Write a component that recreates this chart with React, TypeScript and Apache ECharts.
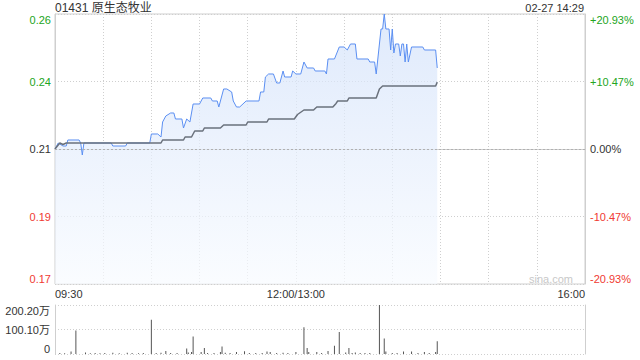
import React, { useEffect, useRef } from "react";
import * as echarts from "echarts";

const FONT = "'Liberation Sans', Arial, 'Noto Sans CJK SC', sans-serif";

const TITLE = "01431 原生态牧业";
const STAMP = "02-27 14:29";
const PREV_CLOSE = 0.215;

// minute index from 09:30 (12:00/13:00 share index 150, 16:00 = 330)
const priceMinutes = [0, 2, 5, 7, 8, 15, 16, 17, 18, 35, 36, 44, 45, 59, 60, 64, 66, 67, 69, 72, 74, 75, 79, 80, 82, 84, 86, 90, 92, 97, 98, 101, 102, 105, 107, 110, 111, 113, 115, 119, 127, 128, 130, 131, 133, 136, 138, 140, 142, 143, 147, 148, 150, 153, 155, 157, 161, 162, 168, 169, 170, 174, 177, 180, 182, 184, 187, 188, 195, 196, 199, 200, 203, 204, 205, 206, 208, 209, 210, 211, 212, 214, 215, 216, 217, 218, 219, 220, 222, 229, 230, 237, 238];
const priceValues = [0.215, 0.217, 0.216, 0.216, 0.218, 0.218, 0.217, 0.213, 0.217, 0.217, 0.216, 0.216, 0.217, 0.217, 0.220, 0.220, 0.219, 0.224, 0.226, 0.227, 0.227, 0.225, 0.225, 0.222, 0.225, 0.224, 0.230, 0.230, 0.232, 0.232, 0.231, 0.231, 0.229, 0.235, 0.235, 0.234, 0.231, 0.229, 0.229, 0.231, 0.231, 0.234, 0.234, 0.239, 0.240, 0.240, 0.237, 0.237, 0.241, 0.239, 0.239, 0.241, 0.240, 0.240, 0.244, 0.242, 0.242, 0.241, 0.241, 0.240, 0.245, 0.245, 0.249, 0.249, 0.248, 0.250, 0.250, 0.245, 0.245, 0.244, 0.244, 0.240, 0.255, 0.255, 0.260, 0.255, 0.255, 0.248, 0.255, 0.247, 0.250, 0.250, 0.246, 0.250, 0.250, 0.244, 0.250, 0.244, 0.249, 0.249, 0.248, 0.248, 0.242];

const avgMinutes = [0, 3, 5, 7, 66, 67, 80, 81, 85, 87, 92, 93, 103, 105, 119, 120, 132, 133, 149, 151, 155, 161, 163, 173, 175, 176, 182, 183, 200, 202, 204, 237, 238];
const avgValues = [0.215, 0.217, 0.2165, 0.217, 0.217, 0.218, 0.218, 0.219, 0.219, 0.221, 0.221, 0.222, 0.222, 0.223, 0.223, 0.224, 0.224, 0.225, 0.225, 0.2265, 0.228, 0.228, 0.229, 0.229, 0.2302, 0.231, 0.231, 0.232, 0.232, 0.235, 0.236, 0.236, 0.2373];

const volMinutes = [3, 6, 10, 13, 19, 22, 25, 28, 31, 36, 40, 45, 48, 52, 55, 60, 63, 66, 69, 72, 76, 82, 83, 85, 86, 91, 93, 95, 99, 103, 104, 106, 109, 113, 118, 121, 125, 129, 132, 134, 138, 142, 145, 150, 155, 157, 158, 163, 166, 170, 174, 177, 181, 183, 185, 187, 190, 193, 196, 202, 205, 206, 210, 213, 217, 222, 226, 230, 233, 237, 238];
const volValues = [40000, 30000, 100000, 960000, 60000, 30000, 40000, 30000, 40000, 50000, 30000, 50000, 40000, 30000, 40000, 1400000, 40000, 50000, 120000, 40000, 40000, 220000, 60000, 80000, 710000, 80000, 250000, 40000, 40000, 80000, 310000, 50000, 40000, 80000, 110000, 40000, 40000, 40000, 100000, 80000, 40000, 50000, 40000, 80000, 1090000, 250000, 80000, 80000, 40000, 120000, 340000, 900000, 60000, 250000, 40000, 60000, 40000, 40000, 40000, 2000000, 630000, 100000, 40000, 40000, 100000, 100000, 40000, 80000, 40000, 80000, 520000];

const timeTicks = [0, 150, 330];
const timeLabels = ["09:30", "12:00/13:00", "16:00"];
const pctTicks = [-20.93, -10.465, 0, 10.465, 20.93];
const priceLabels = ["0.17", "0.19", "0.21", "0.24", "0.26"];
const pctLabels = ["-20.93%", "-10.47%", "0.00%", "+10.47%", "+20.93%"];
const volTicks = [0, 1001000, 2002000];
const volLabels = ["0", "100.10万", "200.20万"];

const GREEN = "#22a522";
const RED = "#f03a32";
const DARK = "#333333";
const GRIDC = "#cfcfcf";

function nearestIdx(ticks: number[], v: number) {
  let best = 0;
  for (let i = 1; i < ticks.length; i++) {
    if (Math.abs(ticks[i] - v) < Math.abs(ticks[best] - v)) best = i;
  }
  return best;
}
const toPct = (p: number) => (p / PREV_CLOSE - 1) * 100;
const pctColor = (v: any) => {
  const n = Number(v);
  return n > 0.01 ? GREEN : n < -0.01 ? RED : DARK;
};

export default function App() {
  const ref = useRef<HTMLDivElement>(null);
  useEffect(() => {
    const chart = echarts.init(ref.current!, null, { renderer: "svg" });
    const priceData = priceMinutes.map((m, i) => [m, toPct(priceValues[i])]);
    const avgData = avgMinutes.map((m, i) => [m, toPct(avgValues[i])]);
    const volData = volMinutes.map((m, i) => [m, volValues[i]]);
    const dotted = { color: GRIDC, type: [1, 2] as any, width: 1 };

    chart.setOption({
      animation: false,
      textStyle: { fontFamily: FONT },
      grid: [
        { left: 55, top: 14, width: 530, height: 270, show: true, borderColor: GRIDC, borderWidth: 1, backgroundColor: "transparent" },
        { left: 55, top: 305, width: 530, height: 49, show: false },
      ],
      xAxis: [
        {
          type: "value", gridIndex: 0, min: 0, max: 330, interval: 30,
          axisLine: { show: true, lineStyle: { color: GRIDC } },
          axisTick: { show: false },
          splitLine: { show: true, lineStyle: dotted },
          axisLabel: {
            fontSize: 11, color: DARK, margin: 4, fontFamily: FONT,
            showMinLabel: true, showMaxLabel: true, hideOverlap: false,
            alignMinLabel: "left", alignMaxLabel: "right",
            formatter: (v: number) => {
              const i = timeTicks.indexOf(Math.round(v));
              return i >= 0 ? timeLabels[i] : "";
            },
          },
        },
        {
          type: "value", gridIndex: 1, min: 0, max: 330,
          axisLine: { show: false }, axisTick: { show: false },
          splitLine: { show: false }, axisLabel: { show: false },
        },
      ],
      yAxis: [
        {
          type: "value", gridIndex: 0, position: "left", min: -20.93, max: 20.93, interval: 10.465,
          axisLine: { show: true, lineStyle: { color: GRIDC } },
          axisTick: { show: false },
          splitLine: { show: true, lineStyle: dotted },
          axisLabel: {
            fontSize: 11, margin: 4, fontFamily: FONT, color: pctColor,
            verticalAlignMinLabel: "bottom", verticalAlignMaxLabel: "top",
            formatter: (v: number) => priceLabels[nearestIdx(pctTicks, v)],
          },
        },
        {
          type: "value", gridIndex: 0, position: "right", min: -20.93, max: 20.93, interval: 10.465,
          axisLine: { show: true, lineStyle: { color: GRIDC } },
          axisTick: { show: false },
          splitLine: { show: false },
          axisLabel: {
            fontSize: 11, margin: 5, fontFamily: FONT, color: pctColor,
            verticalAlignMinLabel: "bottom", verticalAlignMaxLabel: "top",
            formatter: (v: number) => pctLabels[nearestIdx(pctTicks, v)],
          },
        },
        {
          type: "value", gridIndex: 1, position: "left", min: 0, max: 2002000, interval: 1001000,
          axisLine: { show: true, lineStyle: { color: GRIDC } },
          axisTick: { show: false },
          splitLine: { show: true, lineStyle: dotted },
          axisLabel: {
            fontSize: 11, margin: 5, fontFamily: FONT, color: DARK,
            verticalAlignMinLabel: "bottom", verticalAlignMaxLabel: "top",
            formatter: (v: number) => volLabels[nearestIdx(volTicks, v)],
          },
        },
        {
          type: "value", gridIndex: 1, position: "right", min: 0, max: 2002000, interval: 1001000,
          axisLine: { show: true, lineStyle: { color: GRIDC } },
          axisTick: { show: false }, splitLine: { show: false }, axisLabel: { show: false },
        },
      ],
      series: [
        {
          type: "line", xAxisIndex: 0, yAxisIndex: 0, data: priceData,
          showSymbol: false, symbol: "none",
          lineStyle: { color: "#5b8ff2", width: 1 },
          areaStyle: {
            origin: "start",
            color: new echarts.graphic.LinearGradient(0, 0, 0, 1, [
              { offset: 0, color: "#d2e1fa" },
              { offset: 1, color: "#f8fbff" },
            ]),
          },
          markLine: {
            silent: true, symbol: "none", label: { show: false },
            lineStyle: { color: "#b0b0b0", type: [2, 2], width: 1 },
            data: [{ yAxis: 0 }],
          },
          z: 2,
        },
        {
          type: "line", xAxisIndex: 0, yAxisIndex: 0, data: avgData,
          showSymbol: false, symbol: "none",
          lineStyle: { color: "#6a717c", width: 1.5 },
          z: 3,
        },
        {
          type: "bar", xAxisIndex: 1, yAxisIndex: 2, data: volData,
          barWidth: 1, itemStyle: { color: "#555555" },
        },
      ],
      graphic: [
        { type: "text", left: 55, top: 2, style: { text: TITLE, fill: DARK, fontSize: 12, fontFamily: FONT } },
        { type: "text", right: 56, top: 2, style: { text: STAMP, fill: DARK, fontSize: 11, fontFamily: FONT } },
        { type: "text", right: 67, top: 273, style: { text: "sina.com", fill: "#c8c8c8", fontSize: 11, fontFamily: FONT } },
      ],
    });
    return () => chart.dispose();
  }, []);
  return <div ref={ref} style={{ position: "absolute", left: 0, top: 0, width: 640, height: 360 }} />;
}
